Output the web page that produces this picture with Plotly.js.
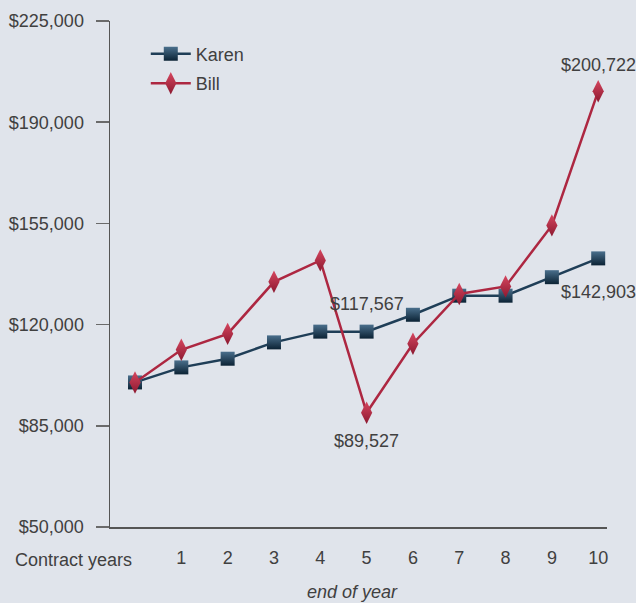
<!DOCTYPE html>
<html>
<head>
<meta charset="utf-8">
<script src="https://cdn.plot.ly/plotly-3.0.1.min.js"></script>
<style>
html,body{margin:0;padding:0;background:#e0e4eb;}
#chart{width:636px;height:603px;}
</style>
</head>
<body>
<div id="chart"></div>
<script>
const years = [0, 1, 2, 3, 4, 5, 6, 7, 8, 9, 10];
const karen = [100000, 105200, 108200, 113850, 117567, 117567, 123400, 130000, 130000, 136400, 142903];
const bill = [100000, 111300, 116800, 134800, 142200, 89527, 113400, 130600, 133200, 154300, 200722];
const xTickVals = [1, 2, 3, 4, 5, 6, 7, 8, 9, 10];
const xTickText = ['1', '2', '3', '4', '5', '6', '7', '8', '9', '10'];
const xStartLabel = 'Contract years';
const xTitle = 'end of year';
const yTickVals = [50000, 85000, 120000, 155000, 190000, 225000];
const yTickText = ['$50,000', '$85,000', '$120,000', '$155,000', '$190,000', '$225,000'];
const seriesNames = ['Karen', 'Bill'];
const callouts = [
  {x: 5, y: 117567, text: '$117,567', dy: -28},
  {x: 5, y: 89527, text: '$89,527', dy: 28},
  {x: 10, y: 200722, text: '$200,722', dy: -26},
  {x: 10, y: 142903, text: '$142,903', dy: 34}
];

const FONT = '"Liberation Sans", Arial, sans-serif';
const TXT = '#404040';
const FS = 18;

const traces = [
  {
    x: years, y: karen, name: seriesNames[0], legendgroup: 'k', type: 'scatter', mode: 'lines+markers',
    line: {color: '#1f3e57', width: 2.5},
    marker: {symbol: 'square', size: 14, color: '#4a6f8c',
             gradient: {type: 'vertical', color: '#0b2234'},
             line: {width: 0}}
  },
  {
    x: years, y: bill, name: seriesNames[1], legendgroup: 'b', type: 'scatter', mode: 'lines+markers',
    line: {color: '#ad2741', width: 2.5},
    marker: {symbol: 'diamond-tall', size: 16, color: '#d6465f',
             gradient: {type: 'vertical', color: '#8c1930'},
             line: {width: 0}}
  }
];

const annotations = callouts.map(c => ({
  x: c.x, y: c.y, xref: 'x', yref: 'y', text: c.text, showarrow: false,
  yshift: -c.dy, font: {family: FONT, size: FS, color: TXT}
}));
annotations.push({
  xref: 'paper', yref: 'paper', x: -0.0744, y: 0, yshift: -33,
  text: xStartLabel, showarrow: false, xanchor: 'center', yanchor: 'middle',
  font: {family: FONT, size: FS, color: TXT}
});
annotations.push({
  xref: 'paper', yref: 'paper', x: 0.488, y: 0, yshift: -65,
  text: xTitle, showarrow: false, xanchor: 'center', yanchor: 'middle',
  font: {family: FONT, size: FS, color: TXT, style: 'italic'}
});

const layout = {
  width: 636, height: 603,
  paper_bgcolor: '#e0e4eb', plot_bgcolor: '#e0e4eb',
  margin: {l: 110, r: 29, t: 21, b: 76},
  font: {family: FONT, size: FS, color: TXT},
  showlegend: true,
  legend: {x: 0.072, y: 0.971, xanchor: 'left', yanchor: 'top', itemwidth: 40,
           traceorder: 'grouped', tracegroupgap: 3,
           bgcolor: 'rgba(0,0,0,0)', font: {family: FONT, size: FS, color: TXT}},
  xaxis: {
    range: [-0.54, 10.19], tickvals: xTickVals, ticktext: xTickText,
    showgrid: false, zeroline: false, showline: true, linecolor: '#555', linewidth: 1.5,
    ticks: '', ticklabelstandoff: 14,
    tickfont: {family: FONT, size: FS, color: TXT}
  },
  yaxis: {
    range: [50000, 225000], tickvals: yTickVals, ticktext: yTickText,
    showgrid: false, zeroline: false, showline: true, linecolor: '#555', linewidth: 1.5,
    ticks: 'outside', ticklen: 13, tickwidth: 1.5, tickcolor: '#6a6a6a',
    ticklabelstandoff: 8,
    tickfont: {family: FONT, size: FS, color: TXT}
  },
  annotations: annotations
};

Plotly.newPlot('chart', traces, layout, {displayModeBar: false, staticPlot: true});
</script>
</body>
</html>
